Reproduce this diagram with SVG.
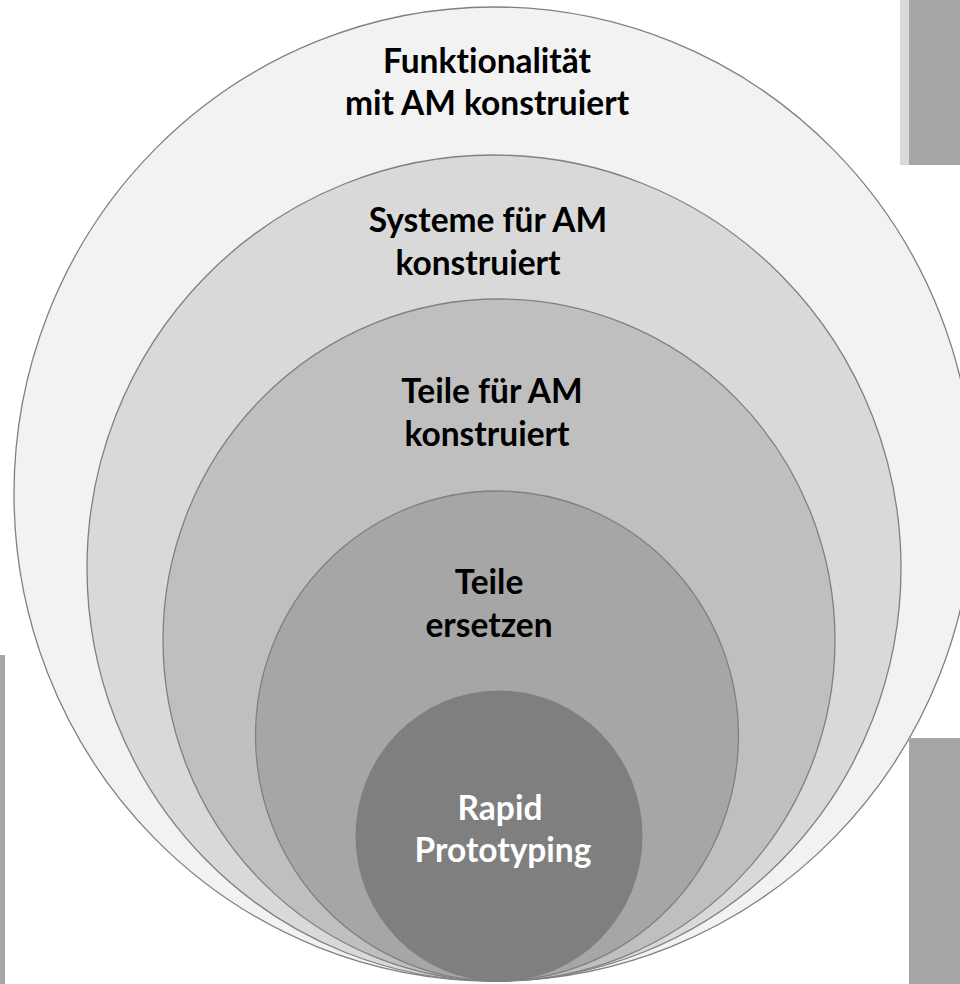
<svg xmlns="http://www.w3.org/2000/svg" width="960" height="984" viewBox="0 0 960 984">
<style>
.ring{stroke:#808080;stroke-width:1.3}
.lbl{font-family:Lato,"Open Sans","Liberation Sans",sans-serif;font-weight:bold;font-size:33.5px;text-anchor:middle;fill:#000;font-variant-ligatures:none}
.wht{fill:#fff}
</style>
<rect x="0" y="0" width="960" height="984" fill="#fff"/>
<g id="side-bars">
<rect x="900" y="0" width="60" height="165" fill="#d9d9d9"/>
<rect x="909" y="0" width="51" height="165" fill="#a6a6a6"/>
<rect x="0" y="655" width="5" height="329" fill="#a6a6a6"/>
</g>
<g id="n1"><ellipse class="ring" cx="494" cy="494" rx="480" ry="487" fill="#f2f2f2"/>
<text class="lbl" x="487" y="73">Funktionalität</text>
<text class="lbl" x="487" y="115">mit AM konstruiert</text></g>
<g id="n2"><ellipse class="ring" cx="494" cy="568" rx="407" ry="413" fill="#d9d9d9"/>
<text class="lbl" x="488" y="232">Systeme für AM</text>
<text class="lbl" x="478" y="275">konstruiert</text></g>
<g id="n3"><ellipse class="ring" cx="499" cy="640" rx="336" ry="341" fill="#bfbfbf"/>
<text class="lbl" x="492" y="403">Teile für AM</text>
<text class="lbl" x="487" y="446">konstruiert</text></g>
<g id="n4"><ellipse class="ring" cx="497" cy="736" rx="241.5" ry="245" fill="#a6a6a6"/>
<text class="lbl" x="489" y="594">Teile</text>
<text class="lbl" x="489" y="637">ersetzen</text></g>
<g id="n5"><ellipse cx="499" cy="836" rx="143.5" ry="145.5" fill="#7f7f7f"/>
<text class="lbl wht" x="500" y="820">Rapid</text>
<text class="lbl wht" x="503" y="862">Prototyping</text></g>
<g id="side-bar-right"><rect x="909" y="738" width="51" height="246" fill="#a6a6a6"/></g>
<g id="connectors"/>
</svg>
